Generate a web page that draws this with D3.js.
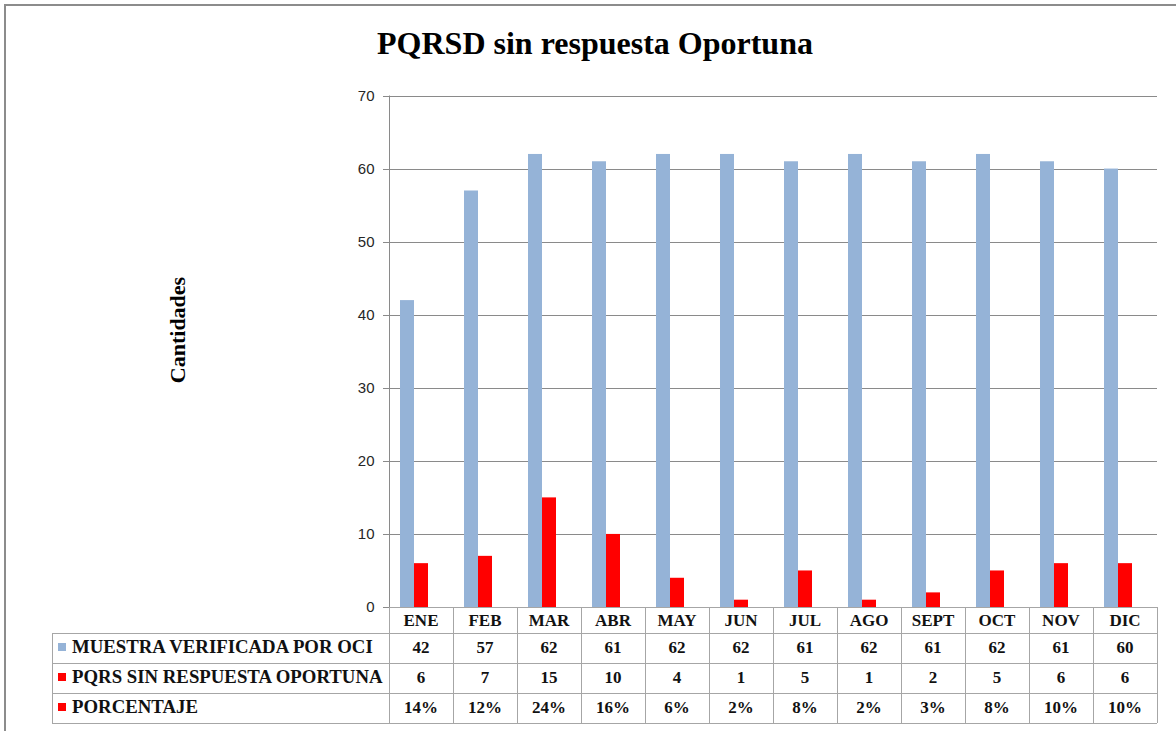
<!DOCTYPE html>
<html>
<head>
<meta charset="utf-8">
<script src="https://cdn.jsdelivr.net/npm/d3@7"></script>
<style>
  body { margin: 0; background: #fff; }
  svg { display: block; }
  .serif { font-family: "Liberation Serif", "DejaVu Serif", "Times New Roman", serif; font-weight: bold; }
  .sans { font-family: "Liberation Sans", Arial, sans-serif; }
</style>
</head>
<body>
<div id="chart"></div>
<script>
"use strict"

// chart data
var months = ["ENE", "FEB", "MAR", "ABR", "MAY", "JUN", "JUL", "AGO", "SEPT", "OCT", "NOV", "DIC"]
var muestra = [42, 57, 62, 61, 62, 62, 61, 62, 61, 62, 61, 60]
var pqrs = [6, 7, 15, 10, 4, 1, 5, 1, 2, 5, 6, 6]
var porcentaje = [0.14, 0.12, 0.24, 0.16, 0.06, 0.02, 0.08, 0.02, 0.03, 0.08, 0.10, 0.10]
var seriesNames = ["MUESTRA VERIFICADA POR OCI", "PQRS SIN RESPUESTA OPORTUNA", "PORCENTAJE"]
var seriesColors = ["#95b3d7", "#ff0000", "#ff0000"]
var yTicks = [0, 10, 20, 30, 40, 50, 60, 70]

var settings = {
    width: 1176,
    height: 731,
    left: 389,
    right: 1157,
    top: 95.5,
    bottom: 607,
    tableLeft: 52,
    rowH: 30,
    headH: 26
}

var svg = d3.select("#chart").append("svg")
    .attr("width", settings.width)
    .attr("height", settings.height)

// outer frame (only top and left visible in the picture)
svg.append("rect")
    .attr("x", 5).attr("y", 5)
    .attr("width", 1200).attr("height", 800)
    .attr("fill", "#fff")
    .attr("stroke", "#8c8c8c")
    .attr("stroke-width", 2)

svg.append("text")
    .attr("class", "serif")
    .attr("x", 595).attr("y", 54)
    .attr("text-anchor", "middle")
    .style("font-size", "32px")
    .text("PQRSD sin respuesta Oportuna")

svg.append("text")
    .attr("class", "serif")
    .attr("transform", "translate(185,330) rotate(-90)")
    .attr("text-anchor", "middle")
    .style("font-size", "22px")
    .text("Cantidades")

var x = d3.scaleBand()
    .domain(months)
    .range([settings.left, settings.right])

// three slots per month, the percentage slot stays (its bars are too small to show)
var xs = d3.scaleBand()
    .domain(d3.range(seriesNames.length))
    .range([(x.bandwidth() - 42) / 2, (x.bandwidth() + 42) / 2])

var y = d3.scaleLinear()
    .domain([0, 70])
    .range([settings.bottom, settings.top])

// gridlines
svg.append("g")
    .selectAll("line")
    .data(yTicks)
    .enter()
    .append("line")
    .attr("x1", settings.left - 6)
    .attr("x2", settings.right)
    .attr("y1", function(d) { return Math.round(y(d)) + 0.5 })
    .attr("y2", function(d) { return Math.round(y(d)) + 0.5 })
    .attr("stroke", "#8a8a8a")
    .attr("stroke-width", 1)

// y axis
var yaxis = d3.axisLeft(y).tickValues(yTicks).tickSize(0).tickPadding(15)
var yg = svg.append("g")
    .attr("transform", "translate(" + (settings.left + 0.5) + ",0)")
    .call(yaxis)
yg.select(".domain").remove()
yg.selectAll("text")
    .attr("class", "sans")
    .style("font-size", "15px")
    .attr("fill", "#262626")

// bars (only the two count series are visible on the 0-70 scale)
var seriesData = [muestra, pqrs]
seriesData.forEach(function(vals, si) {
    svg.append("g")
        .selectAll("rect")
        .data(vals)
        .enter()
        .append("rect")
        .attr("x", function(d, i) { return x(months[i]) + xs(si) })
        .attr("y", function(d) { return y(d) })
        .attr("width", xs.bandwidth())
        .attr("height", function(d) { return y(0) - y(d) })
        .attr("fill", seriesColors[si])
})

// axis line
svg.append("line")
    .attr("x1", settings.left + 0.5).attr("x2", settings.left + 0.5)
    .attr("y1", settings.top).attr("y2", settings.bottom)
    .attr("stroke", "#8a8a8a")

// data table
var tableTop = settings.bottom
var rowTops = [tableTop + settings.headH, tableTop + settings.headH + settings.rowH, tableTop + settings.headH + 2 * settings.rowH]
var tableBottom = tableTop + settings.headH + 3 * settings.rowH
var tbl = svg.append("g")
var lineColor = "#a6a6a6"

// horizontal lines
tbl.append("line")
    .attr("x1", settings.left).attr("x2", settings.right)
    .attr("y1", tableTop + 0.5).attr("y2", tableTop + 0.5)
    .attr("stroke", lineColor)
rowTops.concat([tableBottom]).forEach(function(yy) {
    tbl.append("line")
        .attr("x1", settings.tableLeft).attr("x2", settings.right)
        .attr("y1", yy + 0.5).attr("y2", yy + 0.5)
        .attr("stroke", lineColor)
})
// vertical lines
tbl.append("line")
    .attr("x1", settings.tableLeft + 0.5).attr("x2", settings.tableLeft + 0.5)
    .attr("y1", rowTops[0]).attr("y2", tableBottom)
    .attr("stroke", lineColor)
months.forEach(function(m, i) {
    tbl.append("line")
        .attr("x1", Math.round(x(m)) + 0.5).attr("x2", Math.round(x(m)) + 0.5)
        .attr("y1", tableTop).attr("y2", tableBottom)
        .attr("stroke", lineColor)
})
tbl.append("line")
    .attr("x1", settings.right + 0.5).attr("x2", settings.right + 0.5)
    .attr("y1", tableTop).attr("y2", tableBottom)
    .attr("stroke", lineColor)

// header (month names)
tbl.selectAll("text.month")
    .data(months)
    .enter()
    .append("text")
    .attr("class", "serif month")
    .attr("x", function(d) { return x(d) + x.bandwidth() / 2 })
    .attr("y", tableTop + 19)
    .attr("text-anchor", "middle")
    .style("font-size", "17px")
    .attr("fill", "#111")
    .text(function(d) { return d })

var rowTexts = [
    muestra.map(String),
    pqrs.map(String),
    porcentaje.map(function(p) { return Math.round(p * 100) + "%" })
]

seriesNames.forEach(function(name, r) {
    var cy = rowTops[r] + settings.rowH / 2
    tbl.append("rect")
        .attr("x", 58).attr("y", cy - 5)
        .attr("width", 8).attr("height", 8)
        .attr("fill", seriesColors[r])
    tbl.append("text")
        .attr("class", "serif")
        .attr("x", 72).attr("y", cy + 5)
        .style("font-size", "18.8px")
        .attr("fill", "#111")
        .text(name)
    tbl.append("g")
        .selectAll("text")
        .data(rowTexts[r])
        .enter()
        .append("text")
        .attr("class", "serif")
        .attr("x", function(d, i) { return x(months[i]) + x.bandwidth() / 2 })
        .attr("y", cy + 5)
        .attr("text-anchor", "middle")
        .style("font-size", "17px")
        .attr("fill", "#111")
        .text(function(d) { return d })
})
</script>
</body>
</html>
